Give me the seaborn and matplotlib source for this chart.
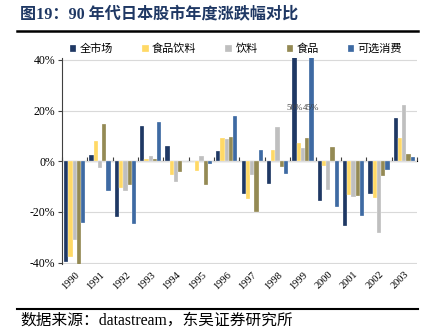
import numpy as np
import pandas as pd
import matplotlib
matplotlib.use("Agg")
import matplotlib.pyplot as plt
from matplotlib.lines import Line2D
from matplotlib.ticker import PercentFormatter
import seaborn as sns

# Annual returns (fraction) of the Japanese market and sectors, 1990-2003
years = ["1990", "1991", "1992", "1993", "1994", "1995", "1996",
         "1997", "1998", "1999", "2000", "2001", "2002", "2003"]
series = ["全市场", "食品饮料", "饮料", "食品", "可选消费"]
whole_market = [-0.399, 0.025, -0.218, 0.139, 0.059, 0.002, 0.039,
                -0.128, -0.088, 0.50, -0.156, -0.256, -0.129, 0.170]
food_beverage = [-0.379, 0.081, -0.105, 0.010, -0.056, -0.038, 0.093,
                 -0.148, 0.046, 0.073, -0.017, -0.135, -0.144, 0.093]
beverage = [-0.312, -0.026, -0.118, 0.020, -0.081, 0.022, 0.088,
            -0.054, 0.136, 0.052, -0.114, -0.142, -0.282, 0.222]
food = [-0.415, 0.146, -0.095, 0.008, -0.043, -0.092, 0.095,
        -0.201, -0.022, 0.092, 0.056, -0.136, -0.060, 0.030]
discretionary = [-0.243, -0.116, -0.248, 0.154, 0.001, -0.010, 0.179,
                 0.046, -0.052, 0.45, -0.182, -0.217, -0.035, 0.016]
colors = ["#1F3864", "#FFD966", "#BFBFBF", "#948A54", "#3E6AA3"]

values = [whole_market, food_beverage, beverage, food, discretionary]
df = pd.DataFrame({
    "year": np.tile(years, len(series)),
    "series": np.repeat(series, len(years)),
    "value": np.concatenate(values),
})

plt.rcParams["axes.unicode_minus"] = False
cjk = ["Noto Sans CJK SC", "DejaVu Sans"]
serif_cjk = ["Liberation Serif", "Noto Sans CJK SC"]

W, H = 431, 333
fig = plt.figure(figsize=(W / 100, H / 100), dpi=100)
ax = fig.add_axes([62 / W, 1 - 264.4 / H, (417 - 62) / W, (264.4 - 58.2) / H])

sns.barplot(data=df, x="year", y="value", hue="series", order=years,
            hue_order=series, palette=colors, width=0.84, edgecolor="white",
            linewidth=0.2, saturation=1, ax=ax)

ax.set_ylim(-0.407, 0.407)
ax.set_xlim(-0.5, len(years) - 0.5)
ax.set_yticks([-0.4, -0.2, 0, 0.2, 0.4])
ax.yaxis.set_major_formatter(PercentFormatter(1.0, decimals=0))
ax.yaxis.grid(True, color="#D9D9D9", linewidth=0.8)
ax.set_axisbelow(True)
ax.set_xlabel("")
ax.set_ylabel("")
for s in ["top", "right", "bottom"]:
    ax.spines[s].set_visible(False)
ax.spines["left"].set_color("#404040")
ax.spines["left"].set_linewidth(0.8)
ax.tick_params(axis="y", length=3, width=0.8, color="#404040",
               labelsize=8.5, pad=2)
ax.tick_params(axis="x", length=0, labelsize=7.5, pad=4)
for lbl in ax.get_yticklabels():
    lbl.set_fontfamily("Liberation Serif")
for lbl in ax.get_xticklabels():
    lbl.set_fontfamily("Liberation Serif")
    lbl.set_rotation(45)
    lbl.set_ha("right")
    lbl.set_rotation_mode("anchor")

# category axis drawn along the zero line, with ticks between groups
zero_frac = 0.407 / 0.814
sec = ax.secondary_xaxis(zero_frac)
sec.set_xticks(np.arange(len(years) + 1) - 0.5)
sec.set_xticklabels([])
sec.tick_params(axis="x", direction="out", length=3, width=0.8, color="#404040")
sec.spines["bottom"].set_color("#404040")
sec.spines["bottom"].set_linewidth(0.8)

# value labels for bars that exceed the axis range
i99 = years.index("1999")
for k in (0, 4):
    bar = ax.containers[k][i99]
    ax.text(bar.get_x() + bar.get_width() / 2, 0.21, f"{values[k][i99]:.0%}",
            ha="center", va="center", fontsize=6.5, color="#404040",
            family="Liberation Serif")

sns.move_legend(ax, "center", bbox_to_anchor=(0.49, 1.045), ncol=5,
                frameon=False, title=None, handlelength=0.6, handleheight=0.6,
                handletextpad=0.3, columnspacing=2.6, borderaxespad=0,
                prop={"family": cjk, "size": 8})

# header and footer
fig.text(20 / W, 1 - 14 / H, "图19：90 年代日本股市年度涨跌幅对比",
         ha="left", va="center", fontsize=11.6, fontweight="bold",
         color="#1F3864", family=serif_cjk)
fig.add_artist(Line2D([17 / W, 418 / W], [1 - 30.5 / H] * 2,
                      color="black", linewidth=1.8))
fig.add_artist(Line2D([17 / W, 418 / W], [1 - 309 / H] * 2,
                      color="black", linewidth=1.5))
fig.text(20 / W, 1 - 320.5 / H, "数据来源：datastream，东吴证券研究所",
         ha="left", va="center", fontsize=11.3, color="black",
         family=serif_cjk)

fig.savefig("out.png", dpi=100)
